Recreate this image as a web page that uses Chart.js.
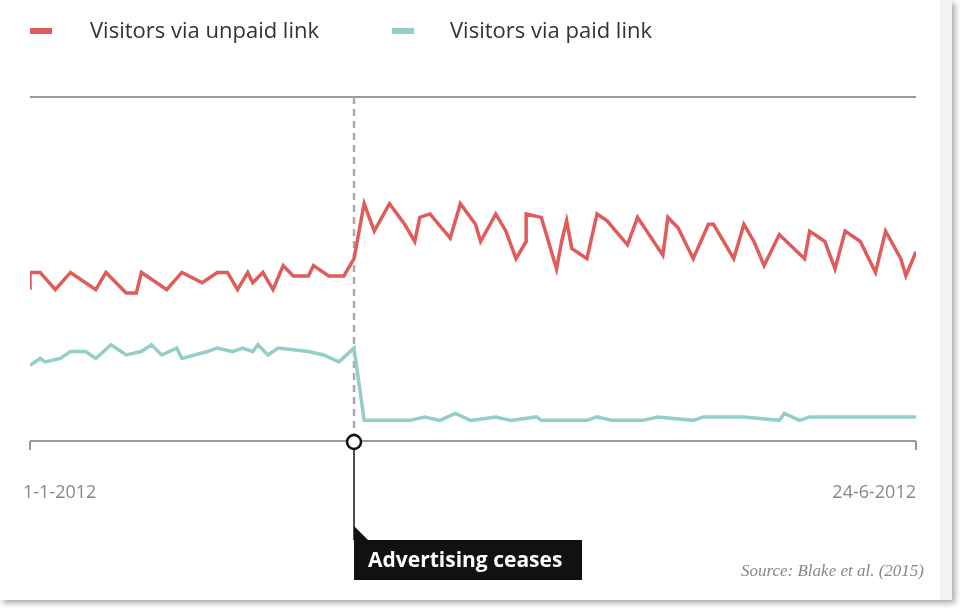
<!DOCTYPE html>
<html>
<head>
<meta charset="utf-8">
<script src="https://cdn.jsdelivr.net/npm/chart.js@4"></script>
<style>
  body { margin: 0; background: #fff; font-family: "Open Sans", sans-serif; }
  #wrap { position: relative; width: 960px; height: 616px; }
  #frame { position: absolute; left: 0; top: 0; width: 940px; height: 600px; background: #fff;
           box-shadow: 3px 3px 6px rgba(0,0,0,0.35); border-right: 12px solid #f3f3f3; }
  canvas { position: absolute; left: 0; top: 0; }
  .leg { position: absolute; top: 14px; font-size: 22px; color: #333; }
  .sw { position: absolute; top: 28px; width: 22px; height: 6px; }
</style>
</head>
<body>
<div id="wrap">
  <div id="frame"></div>
  <canvas id="chart" width="960" height="616"></canvas>
  <div class="sw" style="left:30px;background:#e05c5a"></div>
  <div class="leg" style="left:90px">Visitors via unpaid link</div>
  <div class="sw" style="left:392px;background:#93cfc7"></div>
  <div class="leg" style="left:450px">Visitors via paid link</div>
</div>
<script>
// day index since 1-1-2012, relative visitor level
const unpaidDays = [0,0,2,5,8,13,15,19,21,22,24,27,30,34,37,39,41,43,44,46,48,50,52,55,56,59,62,64,66,68,71,74,76,77,79,83,85,88,89,92,94,96,98,98,101,104,105,106,107,110,112,114,118,120,125,126,128,131,134,135,139,141,143,145,148,153,154,157,159,161,164,167,169,172,173,175];
const unpaidVals = [44,49,49,44,49,44,49,43,43,49,47,44,49,46,49,49,44,49,46,49,44,51,48,48,51,48,48,53,69,61,69,63,58,65,66,59,69,63,58,66,61,53,58,66,65,50,58,64,56,53,66,64,57,65,54,65,62,53,63,63,53,63,58,51,60,53,61,58,50,61,58,49,61,53,48,55];
const paidDays = [0,2,3,6,8,11,13,16,19,22,24,26,29,30,35,37,40,42,44,45,47,49,55,58,61,64,66,75,78,81,84,87,92,95,100,101,105,110,112,115,121,124,131,133,141,148,149,152,154,157,165,175];
const paidVals = [22,24,23,24,26,26,24,28,25,26,28,25,27,24,26,27,26,27,26,28,25,27,26,25,23,27,6,6,7,6,8,6,7,6,7,6,6,6,7,6,6,7,6,7,7,6,8,6,7,7,7,7];
const tickLabels = ['1-1-2012', '24-6-2012'];
const eventDay = 64;
const eventLabel = 'Advertising ceases';
const sourceText = 'Source: Blake et al. (2015)';

const toPts = (xs, ys) => xs.map((x, i) => ({ x: x, y: ys[i] }));

const decor = {
  id: 'decor',
  beforeDatasetsDraw(chart) {
    const { ctx, chartArea: a, scales: { x } } = chart;
    ctx.save();
    ctx.strokeStyle = '#999';
    ctx.lineWidth = 2;
    ctx.beginPath();
    ctx.moveTo(a.left, a.top); ctx.lineTo(a.right, a.top);
    ctx.moveTo(a.left, a.bottom); ctx.lineTo(a.right, a.bottom);
    ctx.moveTo(a.left, a.bottom); ctx.lineTo(a.left, a.bottom + 9);
    ctx.moveTo(a.right, a.bottom); ctx.lineTo(a.right, a.bottom + 9);
    ctx.stroke();
    const ex = x.getPixelForValue(eventDay);
    ctx.setLineDash([7, 5]);
    ctx.strokeStyle = '#aaa';
    ctx.lineWidth = 2.5;
    ctx.beginPath();
    ctx.moveTo(ex, a.top); ctx.lineTo(ex, a.bottom);
    ctx.stroke();
    ctx.restore();
  },
  afterDatasetsDraw(chart) {
    const { ctx, chartArea: a, scales: { x } } = chart;
    const ex = x.getPixelForValue(eventDay);
    ctx.save();
    ctx.fillStyle = '#888';
    ctx.font = '18px "Open Sans"';
    ctx.textBaseline = 'middle';
    ctx.textAlign = 'left';
    ctx.fillText(tickLabels[0], a.left - 7, 493);
    ctx.textAlign = 'right';
    ctx.fillText(tickLabels[1], a.right, 493);
    ctx.font = 'italic 17px "Liberation Serif"';
    ctx.fillText(sourceText, 924, 572);
    // event marker
    ctx.strokeStyle = '#111';
    ctx.lineWidth = 1.5;
    ctx.beginPath();
    ctx.moveTo(ex, a.bottom + 7); ctx.lineTo(ex, 540);
    ctx.stroke();
    ctx.fillStyle = '#111';
    ctx.beginPath();
    ctx.moveTo(ex, 526); ctx.lineTo(ex + 14, 540); ctx.lineTo(ex, 540);
    ctx.fill();
    ctx.fillRect(ex, 540, 228, 40);
    ctx.fillStyle = '#fff';
    ctx.font = 'bold 21px "Open Sans"';
    ctx.textAlign = 'left';
    ctx.fillText(eventLabel, ex + 14, 561);
    ctx.lineWidth = 2.5;
    ctx.beginPath();
    ctx.arc(ex, a.bottom + 1, 7, 0, Math.PI * 2);
    ctx.fill(); ctx.stroke();
    ctx.restore();
  }
};

new Chart(document.getElementById('chart'), {
  type: 'line',
  data: {
    datasets: [
      { label: 'Visitors via unpaid link', data: toPts(unpaidDays, unpaidVals), borderColor: '#e05c5a' },
      { label: 'Visitors via paid link', data: toPts(paidDays, paidVals), borderColor: '#93cfc7' }
    ]
  },
  options: {
    responsive: false,
    animation: false,
    layout: { padding: { left: 30, right: 44, top: 97, bottom: 175 } },
    elements: { point: { radius: 0 }, line: { borderWidth: 3.5, tension: 0 } },
    scales: {
      x: { type: 'linear', min: 0, max: 175, display: false },
      y: { min: 0, max: 100, display: false }
    },
    plugins: { legend: { display: false }, tooltip: { enabled: false } }
  },
  plugins: [decor]
});
</script>
</body>
</html>
